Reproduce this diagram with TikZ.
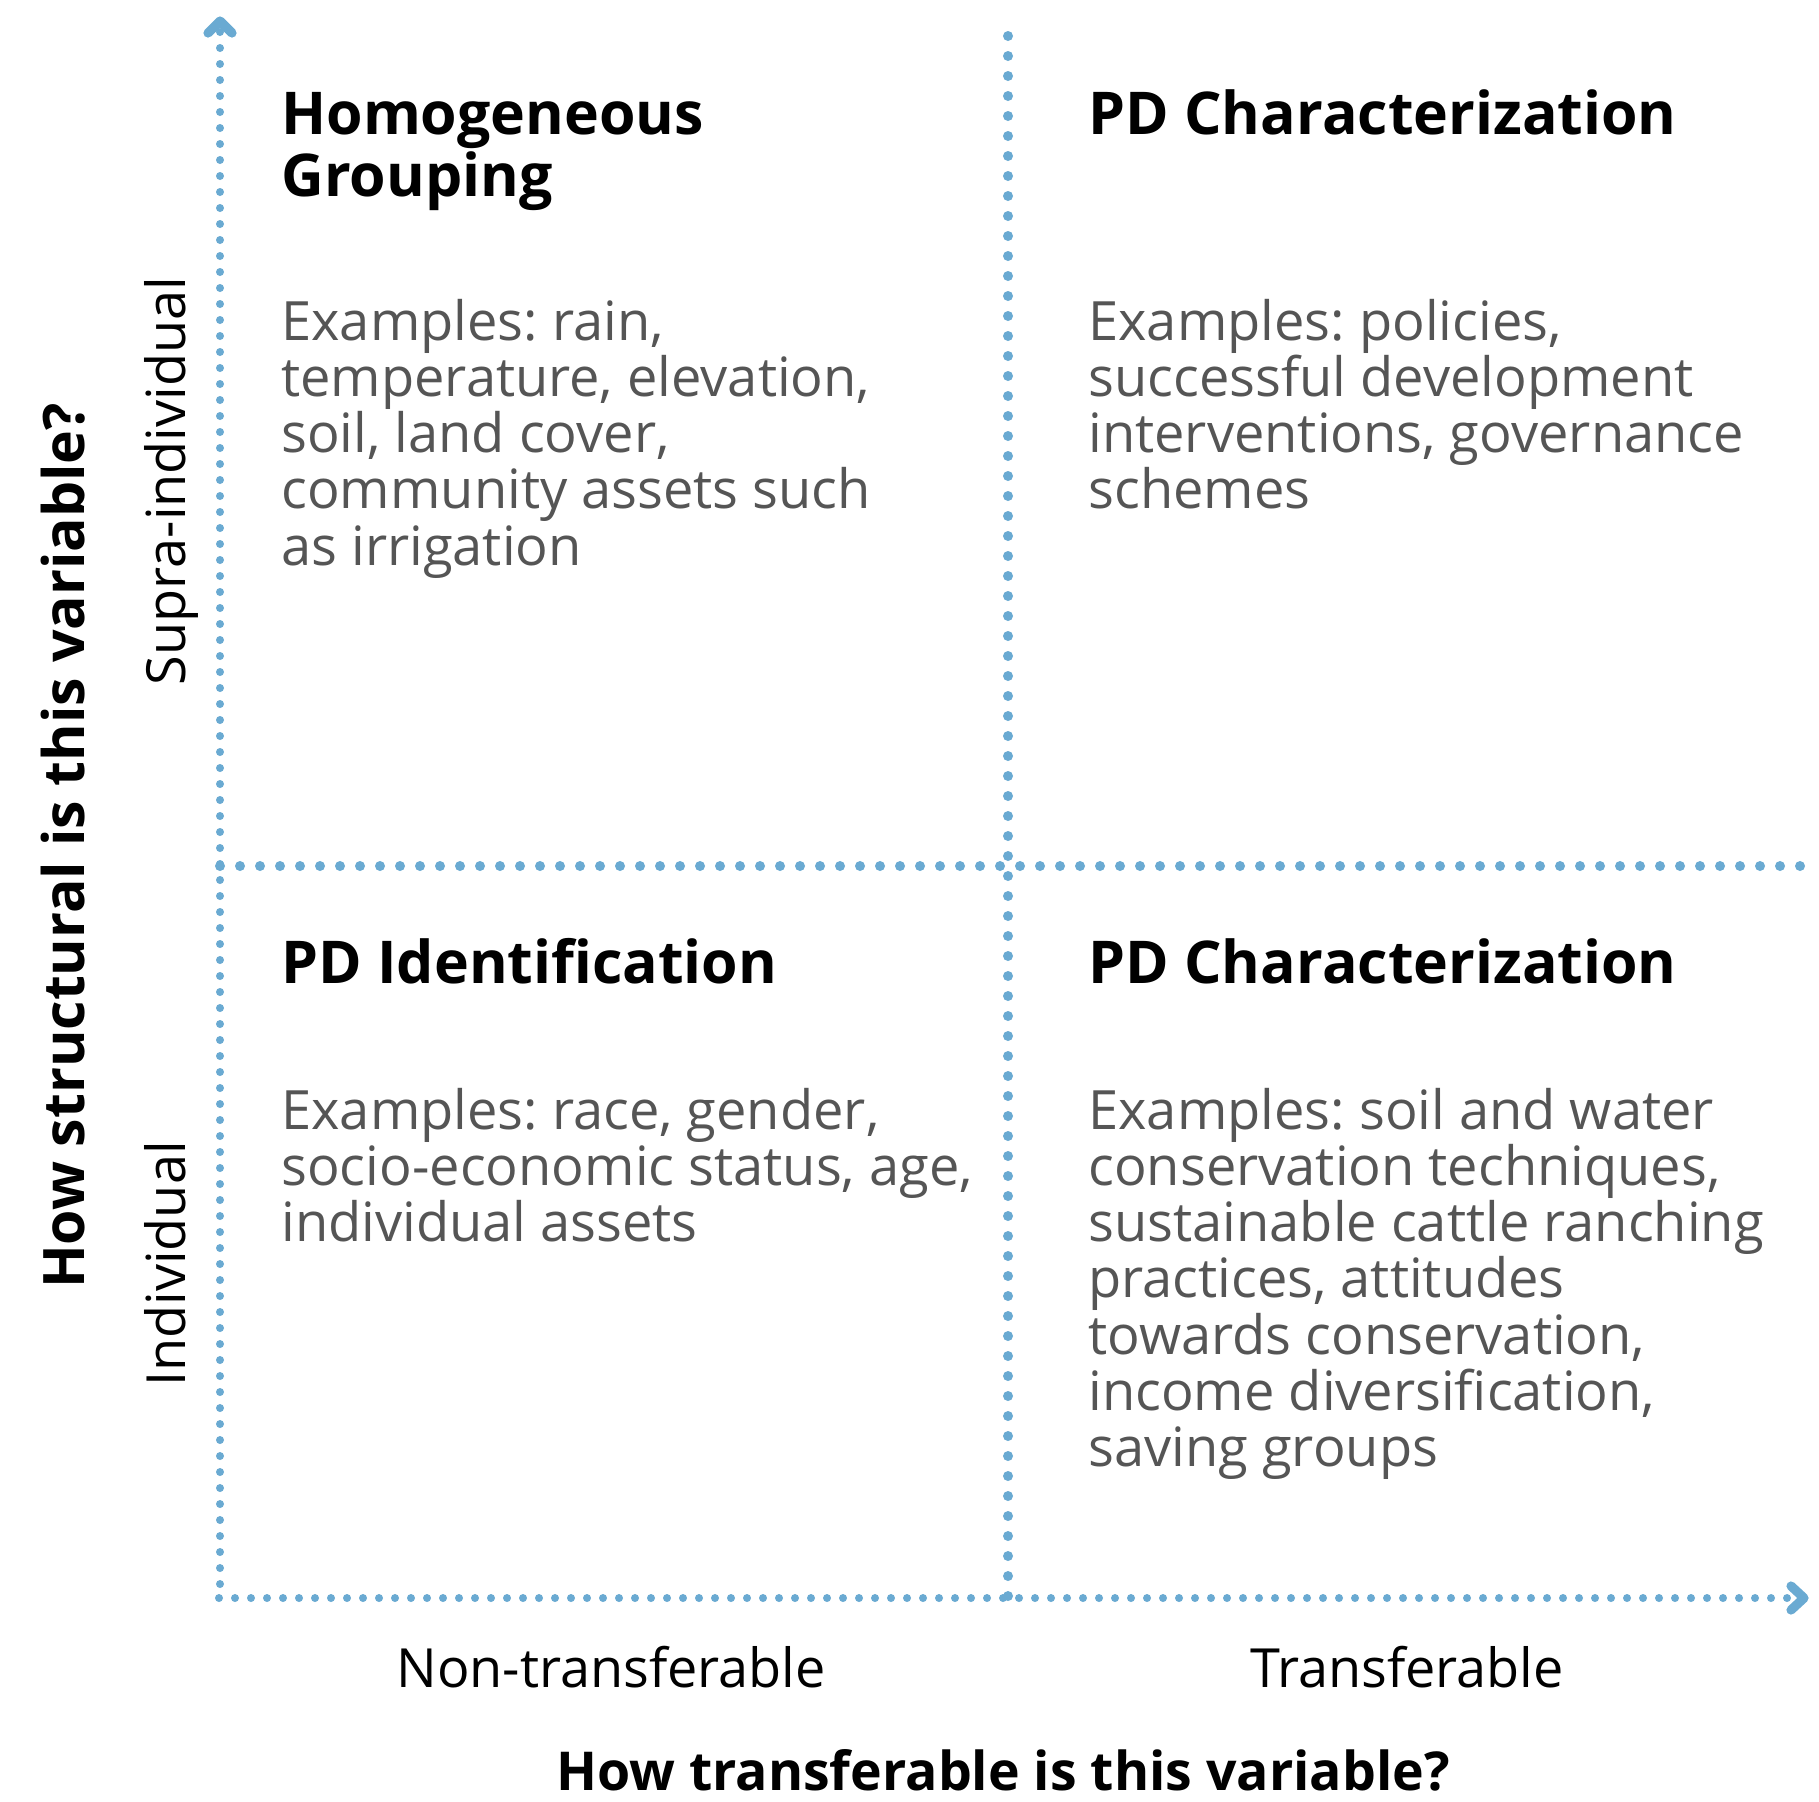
\documentclass[tikz,border=0pt]{standalone}
\usepackage{fontspec}
\setmainfont{Open Sans}
\usetikzlibrary{calc}
\definecolor{axisblue}{HTML}{6AAAD2}
\definecolor{bodygray}{HTML}{555555}
\newcommand\qlines[1]{\parbox[t]{440pt}{\raggedright #1}}
\frenchspacing
\tikzset{
  axisdots/.style={draw=axisblue, line width=4pt, line cap=round, dash pattern=on 0pt off 8pt},
  middots/.style={draw=axisblue, line width=5pt, line cap=round, dash pattern=on 0pt off 10pt},
  chevron/.style={draw=axisblue, line width=4.6pt, line cap=round, line join=round},
  qtitle/.style={anchor=base west, inner sep=0pt, text=black, font=\fontsize{29.5}{31.2}\selectfont\bfseries},
  qbody/.style={anchor=base west, inner sep=0pt, text=bodygray, font=\fontsize{27.1}{28.15}\selectfont},
  axlabel/.style={anchor=base, inner sep=0pt, text=black, font=\fontsize{27}{28}\selectfont},
  axtitle/.style={anchor=base, inner sep=0pt, text=black, font=\fontsize{26.8}{28}\selectfont\bfseries},
}
\begin{document}
\begin{tikzpicture}[x=0.5pt, y=-0.5pt]
\useasboundingbox[fill=white] (0,0) rectangle (1819,1801);
% axis points
\coordinate (origin) at (219,1598);
\coordinate (vstart) at (220,1584);
\coordinate (ytip) at (220,21);
\coordinate (xtip) at (1804,1598);
\coordinate (mvtop) at (1008,36);
\coordinate (mvbot) at (1008,1598);
\coordinate (mhleft) at (220,866);
\coordinate (mhright) at (1806,866);
% middle grid lines
\draw[middots] (mvtop) -- (mvbot);
\draw[middots] (mhleft) -- (mhright);
% axes
\draw[axisdots] (vstart) -- (ytip);
\draw[axisdots] (origin) -- (xtip);
\draw[chevron] ($(ytip)+(-12,12)$) -- (ytip) -- ($(ytip)+(12,12)$);
\draw[chevron] ($(xtip)+(-13,-12)$) -- (xtip) -- ($(xtip)+(-13,12)$);
% quadrant texts
\node[qtitle] (tlt) at (281,134) {\qlines{Homogeneous\\Grouping}};
\node[qbody] (tlb) at (281,340) {\qlines{Examples: rain,\\temperature, elevation,\\soil, land cover,\\community assets such\\as irrigation}};
\node[qtitle] (trt) at (1088,134) {\qlines{PD Characterization}};
\node[qbody] (trb) at (1088,340) {\qlines{Examples: policies,\\successful development\\interventions, governance\\schemes}};
\node[qtitle] (blt) at (281,983) {\qlines{PD Identification}};
\node[qbody] (blb) at (281,1129) {\qlines{Examples: race, gender,\\socio-economic status, age,\\individual assets}};
\node[qtitle] (brt) at (1088,983) {\qlines{PD Characterization}};
\node[qbody] (brb) at (1088,1129) {\qlines{Examples: soil and water\\conservation techniques,\\sustainable cattle ranching\\practices, attitudes\\towards conservation,\\income diversification,\\saving groups}};
% axis labels
\node[axlabel] (nt) at (611,1687) {Non-transferable};
\node[axlabel] (tr) at (1407,1687) {Transferable};
\node[axtitle] (xt) at (1003,1790) {How transferable is this variable?};
\node[axlabel, rotate=90] (si) at (185,481) {Supra-individual};
\node[axlabel, rotate=90] (ind) at (185,1264) {Individual};
\node[axtitle, rotate=90, font=\fontsize{28.6}{30}\selectfont\bfseries] (yt) at (84,846) {How structural is this variable?};
\end{tikzpicture}
\end{document}
